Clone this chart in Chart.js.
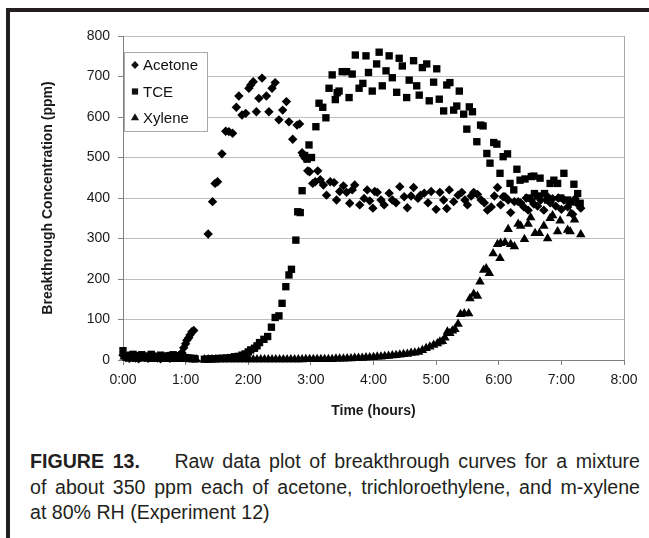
<!DOCTYPE html>
<html>
<head>
<meta charset="utf-8">
<script src="https://cdn.jsdelivr.net/npm/chart.js@4.4.1/dist/chart.umd.min.js"></script>
<style>
  body { margin: 0; background: #fff; }
  #page { position: relative; width: 649px; height: 538px; overflow: hidden; font-family: "Liberation Sans", Arial, sans-serif; color: #231f20; }
  #frameTop { position: absolute; left: 6px; top: 8px; width: 643px; height: 4px; background: #231f20; }
  #frameLeft { position: absolute; left: 6px; top: 8px; width: 4px; height: 530px; background: #231f20; }
  #chartBox { position: absolute; left: 0; top: 0; width: 649px; height: 430px; }
  #caption { position: absolute; left: 30px; top: 449px; width: 610px; font-size: 19.6px; line-height: 25.5px; }
  .just { text-align: justify; text-align-last: justify; white-space: nowrap; }
</style>
</head>
<body>
<div id="page">
  <div id="frameTop"></div>
  <div id="frameLeft"></div>
  <div id="chartBox"><canvas id="breakthroughChart" width="649" height="430"></canvas></div>
  <div id="caption">
    <div class="just"><b>FIGURE 13.</b>&nbsp;&nbsp;&nbsp; Raw data plot of breakthrough curves for a mixture</div>
    <div class="just">of about 350 ppm each of acetone, trichloroethylene, and m-xylene</div>
    <div>at 80% RH (Experiment 12)</div>
  </div>
</div>
<script>
// tempi in ore, concentrazioni in ppm
const acetoneTime = [0.00,0.05,0.10,0.15,0.20,0.25,0.30,0.35,0.40,0.45,0.50,0.55,0.60,0.65,0.70,0.75,0.80,0.85,0.90,0.94,0.97,1.00,1.02,1.05,1.07,1.10,1.13,
  1.36,1.43,1.47,1.51,1.58,1.64,1.69,1.75,1.81,1.85,1.90,1.96,2.01,2.04,2.08,2.13,2.17,2.22,2.29,2.33,2.38,2.43,2.49,2.55,2.61,2.65,2.71,2.78,2.82,2.86,
  2.88,2.91,2.95,2.98,3.03,3.07,3.11,3.15,3.20,3.25,3.31,3.37,3.41,3.46,3.52,3.57,3.62,3.66,3.70,3.78,3.85,3.90,3.94,3.99,4.02,4.06,4.12,4.17,4.25,4.30,
  4.36,4.42,4.49,4.54,4.60,4.64,4.71,4.75,4.81,4.87,4.92,5.00,5.06,5.12,5.17,5.21,5.28,5.35,5.41,5.46,5.50,5.56,5.60,5.66,5.72,5.77,5.82,5.88,5.93,5.98,
  6.03,6.07,6.10,6.15,6.19,6.25,6.31,6.35,6.40,6.44,6.47,6.52,6.56,6.62,6.67,6.72,6.77,6.82,6.86,6.91,6.95,7.00,7.04,7.10,7.14,7.18,7.22,7.26,7.31];
const acetonePpm = [12,6,4,8,5,3,9,6,4,7,10,5,3,6,8,4,6,9,12,18,30,40,49,55,62,70,73,
  311,391,436,440,509,565,564,560,624,652,605,609,671,679,687,613,646,696,652,613,671,685,593,617,638,588,545,580,583,512,
  505,498,467,465,436,440,467,445,432,407,440,438,395,416,430,414,387,420,432,383,399,420,393,375,416,414,395,383,412,395,
  388,428,403,376,405,426,399,407,412,388,416,372,414,395,374,420,391,407,414,395,383,405,414,409,395,388,370,378,405,426,
  383,403,403,395,364,391,391,388,378,400,370,395,385,380,395,370,405,388,398,380,400,372,395,378,390,360,398,385,375];

const tceTime = [0.00,0.04,0.08,0.12,0.16,0.20,0.25,0.30,0.35,0.40,0.45,0.50,0.55,0.60,0.65,0.70,0.75,0.80,0.85,0.90,0.95,1.00,1.05,1.10,1.15,
  1.30,1.36,1.42,1.48,1.54,1.60,1.66,1.72,1.78,1.84,1.90,1.95,2.00,2.04,2.10,2.14,2.18,2.25,2.31,2.37,2.43,2.49,2.54,2.60,2.65,
  2.69,2.76,2.79,2.83,2.86,2.90,2.94,2.97,3.01,3.08,3.13,3.19,3.24,3.29,3.34,3.39,3.42,3.45,3.50,3.57,3.61,3.66,3.71,3.77,3.83,
  3.88,3.92,3.98,4.05,4.09,4.14,4.20,4.25,4.30,4.37,4.41,4.46,4.53,4.57,4.64,4.69,4.73,4.78,4.85,4.89,4.96,5.01,5.05,5.12,5.17,
  5.22,5.28,5.33,5.37,5.44,5.49,5.53,5.58,5.65,5.71,5.75,5.81,5.86,5.92,5.97,6.02,6.07,6.14,6.18,6.24,6.29,6.34,6.42,6.47,6.52,
  6.56,6.57,6.62,6.66,6.73,6.78,6.82,6.88,6.94,6.99,7.04,7.10,7.15,7.20,7.26,7.30];
const tcePpm = [23,10,8,12,14,9,11,13,8,10,14,7,9,12,10,8,11,13,9,10,8,6,5,4,3,
  2,2,3,3,4,4,5,6,8,9,12,15,20,25,29,35,43,51,58,81,105,109,140,181,210,
  224,296,366,364,418,505,496,531,500,576,634,624,598,671,704,643,660,664,712,712,648,706,753,671,683,
  751,710,664,731,760,677,714,751,697,661,745,726,648,691,739,677,654,722,731,640,686,719,644,615,679,
  685,617,627,664,607,570,625,613,539,580,578,510,486,537,533,461,502,509,436,420,471,444,447,400,453,
  454,411,405,449,411,395,436,444,436,400,461,395,390,434,411,387];

const xyleneTime = [0.02,0.06,0.10,0.14,0.18,0.22,0.27,0.32,0.37,0.42,0.47,0.52,0.57,0.62,0.67,0.72,0.77,0.82,0.87,0.92,0.97,1.02,1.07,1.12,1.17,
  1.30,1.36,1.42,1.48,1.54,1.60,1.66,1.72,1.78,1.84,1.90,1.96,2.02,2.08,2.14,2.20,2.26,2.32,2.38,2.44,
  2.50,2.56,2.62,2.68,2.74,2.80,2.86,2.92,2.98,3.04,3.10,3.16,3.22,3.28,3.34,3.40,3.46,3.52,3.58,3.64,
  3.70,3.76,3.82,3.88,3.94,4.00,4.06,4.12,4.18,4.24,4.30,4.36,4.42,4.48,4.54,4.60,4.66,4.72,4.78,4.84,
  4.90,4.96,5.02,5.06,5.10,5.14,5.18,5.22,5.26,5.30,5.35,5.39,5.45,5.52,5.54,5.60,5.66,5.70,5.76,5.80,
  5.85,5.91,5.98,6.02,6.03,6.10,6.15,6.19,6.25,6.31,6.35,6.41,6.47,6.51,6.58,6.65,6.72,6.78,6.82,6.86,
  6.94,6.98,7.10,7.14,7.15,7.21,7.31];
const xylenePpm = [8,5,3,6,4,2,5,3,4,6,2,3,5,4,2,3,4,2,3,2,3,2,1,1,1,
  1,1,1,1,1,1,1,1,1,1,1,1,1,1,1,1,1,1,1,1,
  1,1,1,1,1,1,1,2,2,2,2,2,2,2,2,3,3,3,4,4,
  5,5,5,6,6,7,8,8,9,10,11,12,13,14,15,17,18,20,24,29,
  33,37,41,45,46,55,70,66,72,76,89,113,115,115,152,163,158,193,222,226,
  214,263,286,251,288,290,323,286,280,336,331,298,336,352,313,313,331,300,350,357,
  317,344,321,317,362,346,310];

const seriesNames = ['Acetone', 'TCE', 'Xylene'];
const xTickLabels = ['0:00','1:00','2:00','3:00','4:00','5:00','6:00','7:00','8:00'];

function toPoints(times, values) {
    return times.map((t, i) => ({ x: t, y: values[i] }));
}

Chart.defaults.font.family = '"Liberation Sans", Arial, sans-serif';
Chart.defaults.color = '#1a1a1a';

// Legenda disegnata a mano dentro l'area del grafico
const legendBox = {
    id: 'legendBox',
    afterDraw(chart) {
        const { ctx, chartArea } = chart;
        const x = chartArea.left + 1, y = chartArea.top + 16, w = 83, h = 79;
        ctx.save();
        ctx.fillStyle = '#fff';
        ctx.fillRect(x, y, w, h);
        ctx.strokeStyle = '#a8a8a8';
        ctx.lineWidth = 1;
        ctx.strokeRect(x + 0.5, y + 0.5, w, h);
        ctx.font = '15px "Liberation Sans", Arial, sans-serif';
        ctx.textBaseline = 'middle';
        chart.data.datasets.forEach((ds, i) => {
            const cy = y + 13 + i * 26.5;
            ctx.fillStyle = '#111';
            Chart.helpers.drawPoint(ctx, { pointStyle: ds.pointStyle, radius: ds.pointRadius - 0.8, borderWidth: 0, rotation: 0 }, x + 11, cy);
            ctx.fillStyle = '#111';
            ctx.fillText(ds.label, x + 19, cy + 1);
        });
        // bordo destro dell'area
        ctx.strokeStyle = '#a8a8a8';
        ctx.beginPath();
        ctx.moveTo(chartArea.right + 0.5, chartArea.top);
        ctx.lineTo(chartArea.right + 0.5, chartArea.bottom);
        ctx.stroke();
        ctx.restore();
    }
};

const ctx = document.getElementById('breakthroughChart').getContext('2d');
new Chart(ctx, {
    type: 'scatter',
    data: {
        datasets: [
            { label: seriesNames[0], data: toPoints(acetoneTime, acetonePpm), pointStyle: 'rectRot', pointRadius: 4.7, backgroundColor: '#000', borderColor: '#000', borderWidth: 0, clip: false },
            { label: seriesNames[1], data: toPoints(tceTime, tcePpm), pointStyle: 'rect', pointRadius: 5.2, backgroundColor: '#000', borderColor: '#000', borderWidth: 0, clip: false },
            { label: seriesNames[2], data: toPoints(xyleneTime, xylenePpm), pointStyle: 'triangle', pointRadius: 5.5, backgroundColor: '#000', borderColor: '#000', borderWidth: 0, clip: false }
        ]
    },
    options: {
        responsive: false,
        animation: false,
        devicePixelRatio: 1,
        layout: { padding: { left: 10, right: 25, top: 36, bottom: 0 } },
        plugins: { legend: { display: false }, tooltip: { enabled: false } },
        scales: {
            x: {
                type: 'linear', min: 0, max: 8,
                afterFit: s => { s.height = 70; },
                ticks: { stepSize: 1, callback: v => xTickLabels[v], font: { size: 14 }, padding: 7, maxRotation: 0 },
                grid: { drawOnChartArea: false, tickLength: 5, tickColor: '#808080' },
                border: { color: '#808080' },
                title: { display: true, text: 'Time (hours)', font: { size: 14, weight: 'bold' }, padding: { top: 4, bottom: 10 } }
            },
            y: {
                min: 0, max: 800,
                afterFit: s => { s.width = 113; },
                ticks: { stepSize: 100, font: { size: 14 }, padding: 8 },
                grid: { color: '#c0c0c0', tickLength: 5, tickColor: '#808080' },
                border: { color: '#808080' },
                title: { display: true, text: 'Breakthrough Concentration (ppm)', font: { size: 14, weight: 'bold' }, padding: { top: 30, bottom: 0 } }
            }
        }
    },
    plugins: [legendBox]
});
</script>
</body>
</html>
